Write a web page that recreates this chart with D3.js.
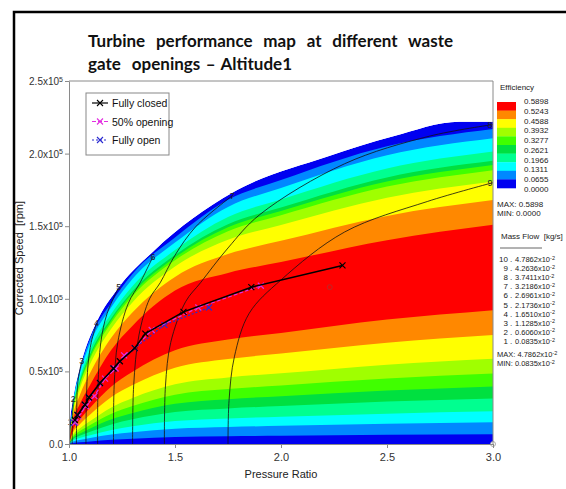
<!DOCTYPE html>
<html>
<head>
<meta charset="utf-8">
<script src="https://cdn.jsdelivr.net/npm/d3@7"></script>
<style>
body { margin: 0; background: #fff; }
text { font-family: "Liberation Sans", Arial, sans-serif; }
</style>
</head>
<body>
<svg id="chart" width="566" height="489"></svg>
<script>
// ---- data (speed in 1e5 rpm) ----
const stationPR = [1.0, 1.02, 1.05, 1.1, 1.2, 1.3, 1.5, 1.75, 2.0, 2.5, 3.0];

// lower edges of efficiency bands 1..9 (below the red ridge)
const lowerEdges = [
  [0, .007, .012, .018, .029, .037, .048, .053, .056, .063, .068],
  [0, .017, .027, .041, .065, .081, .105, .117, .125, .140, .150],
  [0, .025, .041, .061, .097, .122, .158, .176, .187, .209, .225],
  [0, .035, .057, .085, .135, .170, .220, .245, .261, .292, .314],
  [0, .044, .071, .107, .170, .214, .277, .309, .329, .368, .396],
  [0, .053, .087, .131, .209, .262, .340, .378, .403, .451, .485],
  [0, .065, .106, .158, .252, .317, .411, .458, .487, .546, .587],
  [0, .083, .135, .203, .323, .406, .526, .586, .623, .698, .751],
  [0, .101, .166, .249, .396, .498, .645, .719, .765, .857, .922]
];
// upper edges of efficiency bands 1..9 (above the red ridge)
const upperEdges = [
  [0, .300, .503, .726, .975, 1.173, 1.422, 1.682, 1.818, 2.051, 2.170],
  [0, .287, .480, .695, .944, 1.138, 1.387, 1.633, 1.763, 1.989, 2.106],
  [0, .268, .448, .651, .898, 1.088, 1.336, 1.563, 1.684, 1.898, 2.014],
  [0, .255, .426, .620, .867, 1.054, 1.301, 1.514, 1.629, 1.836, 1.950],
  [0, .250, .416, .606, .853, 1.038, 1.285, 1.492, 1.605, 1.808, 1.922],
  [0, .242, .403, .589, .835, 1.019, 1.265, 1.465, 1.575, 1.773, 1.886],
  [0, .226, .376, .552, .796, .977, 1.222, 1.406, 1.508, 1.696, 1.808],
  [0, .201, .332, .490, .733, .907, 1.151, 1.308, 1.399, 1.571, 1.680],
  [0, .166, .272, .408, .649, .815, 1.057, 1.178, 1.253, 1.404, 1.510]
];

// outer boundary of the map
const envPR    = [1.0, 1.005, 1.02, 1.06, 1.13, 1.23, 1.40, 1.77, 2.22, 2.53, 2.84, 3.0];
const envSpeed = [0, 0.15, 0.31, 0.57, 0.84, 1.07, 1.33, 1.73, 1.98, 2.12, 2.22, 2.22];

// mass flow lines
const flowLines = [
  { id: '1', pr: [1.004, 1.005], n: [0, 0.15] },
  { id: '2', pr: [1.015, 1.016, 1.02], n: [0, 0.15, 0.31] },
  { id: '3', pr: [1.035, 1.036, 1.04, 1.05, 1.06], n: [0, 0.2, 0.4, 0.5, 0.57] },
  { id: '4', pr: [1.08, 1.082, 1.09, 1.105, 1.13], n: [0, 0.3, 0.55, 0.7, 0.83] },
  { id: '5', pr: [1.135, 1.137, 1.15, 1.18, 1.235], n: [0, 0.4, 0.7, 0.9, 1.08] },
  { id: '6', pr: [1.21, 1.213, 1.23, 1.28, 1.335, 1.396], n: [0, 0.4, 0.7, 0.97, 1.11, 1.29] },
  { id: '7', pr: [1.30, 1.305, 1.33, 1.38, 1.43, 1.50, 1.60, 1.77], n: [0, 0.4, 0.75, 1.0, 1.11, 1.3, 1.5, 1.71] },
  { id: '8', pr: [1.45, 1.455, 1.48, 1.55, 1.62, 1.75, 1.9, 2.3, 2.7, 3.0], n: [0, 0.4, 0.7, 0.98, 1.11, 1.35, 1.58, 1.93, 2.12, 2.2] },
  { id: '9', pr: [1.75, 1.755, 1.78, 1.85, 2.0, 2.3, 2.69, 3.0], n: [0, 0.3, 0.6, 0.9, 1.13, 1.46, 1.67, 1.8] }
];

// operating lines
const closedPR = [1.028, 1.04, 1.075, 1.094, 1.146, 1.21, 1.24, 1.31, 1.36, 1.54, 1.86, 2.29];
const closedN  = [0.165, 0.20, 0.27, 0.32, 0.42, 0.52, 0.57, 0.66, 0.76, 0.91, 1.08, 1.23];
const halfPR   = [1.03, 1.045, 1.08, 1.12, 1.17, 1.22, 1.26, 1.31, 1.39, 1.61, 1.905];
const halfN    = [0.15, 0.19, 0.26, 0.33, 0.45, 0.52, 0.61, 0.66, 0.785, 0.94, 1.09];
const openPR   = [1.025, 1.04, 1.075, 1.094, 1.146, 1.21, 1.31, 1.45, 1.66];
const openN    = [0.145, 0.20, 0.27, 0.32, 0.42, 0.52, 0.66, 0.82, 0.94];

const seriesNames = ['Fully closed', '50% opening', 'Fully open'];
const seriesColors = ['#000000', '#e22ee0', '#2a2ad0'];
const seriesDash = [null, '4,2', '2,2'];

// colour legend (top = highest efficiency)
const effLabels = ['0.5898', '0.5243', '0.4588', '0.3932', '0.3277', '0.2621', '0.1966', '0.1311', '0.0655', '0.0000'];
const bandColors = ['#0000f0', '#0088ff', '#00ffff', '#00ff90', '#00e040', '#40ff00', '#a0ff00', '#ffff00', '#ff8800', '#ff0000'];
const flowIdx = ['10', '9', '8', '7', '6', '5', '4', '3', '2', '1'];
const flowVals = ['4.7862', '4.2636', '3.7411', '3.2186', '2.6961', '2.1736', '1.6510', '1.1285', '0.6060', '0.0835'];

const xTicks = [1.0, 1.5, 2.0, 2.5, 3.0];
const yTicks = [0, 0.5, 1.0, 1.5, 2.0, 2.5];

// ---- setup ----
const svg = d3.select('#chart');
const x = d3.scaleLinear().domain([1.0, 3.0]).range([69, 493]);
const y = d3.scaleLinear().domain([0, 2.5]).range([444, 81]);

// outer frame
svg.append('path').attr('d', 'M14,489V12H566').attr('fill', 'none')
  .attr('stroke', '#000').attr('stroke-width', 2.5);

// title
const titleLines = [
  { t: 'Turbine performance map at different waste', y: 47, w: 365 },
  { t: 'gate  openings \u2013 Altitude1', y: 70, w: 204 }
];
titleLines.forEach(function (d) {
  const t = svg.append('text').attr('x', 88).attr('y', d.y)
    .style('font-family', 'Lato, "Open Sans", sans-serif')
    .style('font-weight', 'bold').style('font-size', '17px')
    .style('white-space', 'pre').attr('fill', '#111').text(d.t);
  const nat = t.node().getComputedTextLength();
  const spaces = d.t.split(' ').length - 1;
  t.attr('word-spacing', ((d.w - nat) / spaces).toFixed(2));
});

// clip to map envelope
const envPts = envPR.map((p, i) => [p, envSpeed[i]]);
const envArea = d3.area().x(d => x(d[0])).y0(y(0)).y1(d => y(d[1])).curve(d3.curveMonotoneX);
svg.append('defs').append('clipPath').attr('id', 'envClip')
  .append('path').attr('d', envArea(envPts));

const field = svg.append('g').attr('clip-path', 'url(#envClip)');
field.append('path').attr('d', envArea(envPts)).attr('fill', bandColors[0]);

const bandArea = d3.area()
  .x(d => x(d.pr)).y0(d => y(d.lo)).y1(d => y(d.hi))
  .curve(d3.curveMonotoneX);

for (let k = 0; k < 9; k++) {
  const pts = stationPR.map((p, i) => ({ pr: p, lo: lowerEdges[k][i], hi: upperEdges[k][i] }));
  field.append('path').attr('d', bandArea(pts)).attr('fill', bandColors[k + 1]);
}

// mass flow lines
const flowLine = d3.line().x(d => x(d[0])).y(d => y(d[1])).curve(d3.curveCatmullRom.alpha(0.5));
const flowG = svg.append('g');
flowLines.forEach(function (f) {
  const pts = f.pr.map((p, i) => [p, f.n[i]]);
  flowG.append('path').attr('d', flowLine(pts)).attr('fill', 'none')
    .attr('stroke', '#111').attr('stroke-width', 0.8);
  const last = pts[pts.length - 1];
  flowG.append('text').attr('x', x(last[0]) + (last[0] >= 2.99 ? -3 : 0)).attr('y', y(last[1]) + 3)
    .attr('text-anchor', 'middle').style('font-size', '9px').attr('fill', '#222').text(f.id);
});
// small end markers
flowG.append('circle').attr('cx', x(2.23)).attr('cy', y(1.08)).attr('r', 2.5)
  .attr('fill', 'none').attr('stroke', '#b03030').attr('stroke-width', 0.8);
flowG.append('circle').attr('cx', x(3.0)).attr('cy', y(0)).attr('r', 2.5)
  .attr('fill', '#fff').attr('stroke', '#999').attr('stroke-width', 0.8);

// operating lines
const series = [
  closedPR.map((p, i) => [p, closedN[i]]),
  halfPR.map((p, i) => [p, halfN[i]]),
  openPR.map((p, i) => [p, openN[i]])
];
const opLine = d3.line().x(d => x(d[0])).y(d => y(d[1]));
const xMark = 'M-3,-3L3,3M-3,3L3,-3';
[2, 1, 0].forEach(function (s) {
  const g = svg.append('g');
  g.append('path').attr('d', opLine(series[s])).attr('fill', 'none')
    .attr('stroke', seriesColors[s]).attr('stroke-width', s === 0 ? 1.6 : 1.3)
    .attr('stroke-dasharray', seriesDash[s]);
  g.selectAll('path.mk').data(series[s]).enter().append('path').attr('class', 'mk')
    .attr('d', xMark).attr('transform', d => 'translate(' + x(d[0]) + ',' + y(d[1]) + ')')
    .attr('stroke', seriesColors[s]).attr('stroke-width', 1.2);
});

// axes
const axisColor = '#8a8a8a';
const xAxis = svg.append('g').attr('transform', 'translate(0,' + y(0) + ')')
  .call(d3.axisBottom(x).tickValues(xTicks).tickFormat(d3.format('.1f')).tickSize(4).tickSizeOuter(0));
const yAxis = svg.append('g').attr('transform', 'translate(' + x(1.0) + ',0)')
  .call(d3.axisLeft(y).tickValues(yTicks).tickFormat('').tickSize(4).tickSizeOuter(0));
[xAxis, yAxis].forEach(function (a) {
  a.select('.domain').attr('stroke', axisColor);
  a.selectAll('.tick line').attr('stroke', axisColor);
});
xAxis.selectAll('.tick text').attr('fill', '#333').style('font-size', '11px')
  .style('font-family', '"Liberation Sans", Arial, sans-serif').attr('dy', '0.95em');
yAxis.selectAll('.tick').each(function (d) {
  const t = d3.select(this).append('text').attr('x', -6).attr('dy', '0.35em')
    .attr('text-anchor', 'end').attr('fill', '#333').style('font-size', '10px')
    .style('font-family', '"Liberation Sans", Arial, sans-serif');
  if (d === 0) { t.text('0.0'); return; }
  t.append('tspan').text(d.toFixed(1) + 'x10');
  t.append('tspan').attr('dy', '-0.45em').style('font-size', '7px').text('5');
});
// top and right frame lines
svg.append('line').attr('x1', x(1.0)).attr('x2', x(3.0)).attr('y1', y(2.5)).attr('y2', y(2.5)).attr('stroke', axisColor);
svg.append('line').attr('x1', x(3.0)).attr('x2', x(3.0)).attr('y1', y(2.5)).attr('y2', y(0)).attr('stroke', axisColor);

svg.append('text').attr('x', x(2.0)).attr('y', 478).attr('text-anchor', 'middle')
  .style('font-size', '11px').attr('fill', '#222').text('Pressure Ratio');
svg.append('text').attr('transform', 'translate(23,' + y(1.28) + ') rotate(-90)')
  .attr('text-anchor', 'middle').style('font-size', '11px').attr('fill', '#222')
  .style('white-space', 'pre').text('Corrected Speed  [rpm]');

// legend (operating lines)
const lg = svg.append('g').attr('transform', 'translate(86,93)');
lg.append('rect').attr('width', 83).attr('height', 62).attr('fill', '#fff')
  .attr('stroke', '#888').attr('stroke-width', 1);
seriesNames.forEach(function (name, i) {
  const yy = 10 + i * 18.5;
  lg.append('line').attr('x1', 6).attr('x2', 22).attr('y1', yy).attr('y2', yy)
    .attr('stroke', seriesColors[i]).attr('stroke-width', 1.2).attr('stroke-dasharray', seriesDash[i]);
  lg.append('path').attr('d', xMark).attr('transform', 'translate(14,' + yy + ')')
    .attr('stroke', seriesColors[i]).attr('stroke-width', 1.1);
  lg.append('text').attr('x', 26).attr('y', yy + 4).style('font-size', '10.5px')
    .attr('fill', '#111').text(name);
});

// efficiency colour bar
const cb = svg.append('g');
const fs = '8px';
cb.append('text').attr('x', 500).attr('y', 90).style('font-size', fs).attr('fill', '#222').text('Efficiency');
const barY = d3.scaleBand().domain(d3.range(10)).range([102, 188]);
const labY = d3.scalePoint().domain(d3.range(10)).range([101, 189]);
cb.selectAll('rect.blk').data(d3.range(10)).enter().append('rect').attr('class', 'blk')
  .attr('x', 497).attr('width', 19).attr('y', d => barY(d)).attr('height', barY.bandwidth() + 0.3)
  .attr('fill', d => bandColors[9 - d]);
cb.selectAll('text.ev').data(effLabels).enter().append('text').attr('class', 'ev')
  .attr('x', 524).attr('y', (d, i) => labY(i) + 3).style('font-size', fs).attr('fill', '#222').text(d => d);
cb.append('text').attr('x', 497).attr('y', 207).style('font-size', fs).attr('fill', '#222').text('MAX: 0.5898');
cb.append('text').attr('x', 497).attr('y', 216).style('font-size', fs).attr('fill', '#222').text('MIN: 0.0000');

// mass flow legend
cb.append('text').attr('x', 501).attr('y', 239).style('font-size', fs).attr('fill', '#222')
  .style('white-space', 'pre').text('Mass Flow  [kg/s]');
cb.append('line').attr('x1', 500).attr('x2', 542).attr('y1', 248).attr('y2', 248).attr('stroke', '#666');
const rowY = d3.scalePoint().domain(d3.range(10)).range([259, 341]);
flowIdx.forEach(function (id, i) {
  cb.append('text').attr('x', 508).attr('y', rowY(i) + 3).attr('text-anchor', 'end')
    .style('font-size', fs).attr('fill', '#222').text(id);
  cb.append('text').attr('x', 510).attr('y', rowY(i) + 3)
    .style('font-size', fs).attr('fill', '#222').text('.');
  const t = cb.append('text').attr('x', 515).attr('y', rowY(i) + 3)
    .style('font-size', '7.5px').attr('fill', '#222');
  t.append('tspan').text(flowVals[i] + 'x10');
  t.append('tspan').attr('dy', '-0.45em').style('font-size', '5.5px').text('-2');
});
[['MAX: 4.7862', 357], ['MIN: 0.0835', 366]].forEach(function (m) {
  const t = cb.append('text').attr('x', 497).attr('y', m[1]).style('font-size', '7.5px').attr('fill', '#222');
  t.append('tspan').text(m[0] + 'x10');
  t.append('tspan').attr('dy', '-0.45em').style('font-size', '5.5px').text('-2');
});
</script>
</body>
</html>
